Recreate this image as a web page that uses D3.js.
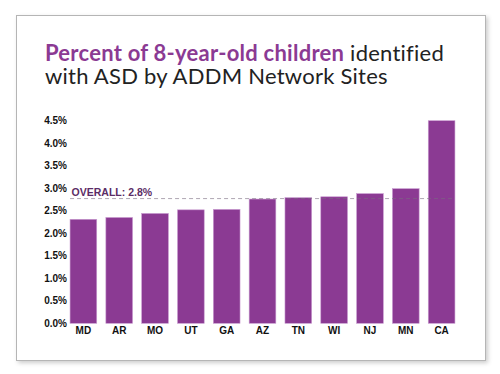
<!DOCTYPE html>
<html>
<head>
<meta charset="utf-8">
<script src="https://cdn.jsdelivr.net/npm/d3@7"></script>
<style>
  html, body { margin: 0; padding: 0; background: #fff; }
  svg { display: block; }
</style>
</head>
<body>
<div id="chart"></div>
<script>
// ADDM sites, prevalence (%) among 8-year-olds
var sites = ['MD', 'AR', 'MO', 'UT', 'GA', 'AZ', 'TN', 'WI', 'NJ', 'MN', 'CA'];
var percent = [2.31, 2.35, 2.44, 2.52, 2.53, 2.76, 2.79, 2.81, 2.88, 2.99, 4.5];
var overall = 2.77;
var overallLabel = 'OVERALL: 2.8%';
var yTicks = [0, 0.5, 1, 1.5, 2, 2.5, 3, 3.5, 4, 4.5];

var width = 500, height = 374;
var purple = '#8b3a93';

var svg = d3.select('#chart').append('svg')
    .attr('width', width)
    .attr('height', height);

var defs = svg.append('defs');
var shadow = defs.append('filter').attr('id', 'shadow')
    .attr('x', '-5%').attr('y', '-5%').attr('width', '110%').attr('height', '110%');
shadow.append('feDropShadow')
    .attr('dx', 2).attr('dy', 2).attr('stdDeviation', 2)
    .attr('flood-color', '#000').attr('flood-opacity', 0.2);

// card frame
svg.append('rect')
    .attr('x', 16.5).attr('y', 15.5)
    .attr('width', 469).attr('height', 345)
    .attr('fill', '#fff')
    .attr('stroke', '#b5b5b5')
    .attr('stroke-width', 1)
    .attr('filter', 'url(#shadow)');

// title, two lines
var title = svg.append('text')
    .attr('font-family', 'Lato, sans-serif')
    .attr('font-size', 22)
    .attr('letter-spacing', 0.25)
    .attr('fill', '#222');
var line1 = title.append('tspan').attr('x', 45).attr('y', 61);
line1.append('tspan')
    .attr('font-weight', 'bold')
    .attr('fill', purple)
    .text('Percent of 8-year-old children');
line1.append('tspan').text(' identified');
title.append('tspan')
    .attr('x', 45).attr('y', 84)
    .text('with ASD by ADDM Network Sites');

var x = d3.scaleBand()
    .domain(sites)
    .range([65.4, 459.6])
    .paddingInner(0.255)
    .paddingOuter(0.13);

var y = d3.scaleLinear()
    .domain([0, 4.5])
    .range([323.3, 120.7]);

// y axis
var yAxis = svg.append('g')
    .attr('transform', 'translate(67,0)')
    .call(d3.axisLeft(y).tickValues(yTicks).tickSize(0).tickPadding(0)
        .tickFormat(function (d) { return d.toFixed(1) + '%'; }));
yAxis.select('.domain').remove();
yAxis.selectAll('text')
    .attr('font-family', 'Liberation Sans, Arial, sans-serif')
    .attr('font-weight', 'bold')
    .attr('font-size', 10)
    .attr('fill', '#111');

// bars
svg.append('g')
    .selectAll('rect')
    .data(percent)
    .enter().append('rect')
    .attr('x', function (d, i) { return x(sites[i]); })
    .attr('y', function (d) { return y(d); })
    .attr('width', x.bandwidth())
    .attr('height', function (d) { return y(0) - y(d); })
    .attr('fill', purple)
    .attr('stroke', '#c99bd0')
    .attr('stroke-width', 0.6);

// x axis
var xAxis = svg.append('g')
    .attr('transform', 'translate(0,' + y(0) + ')')
    .call(d3.axisBottom(x).tickSize(0).tickPadding(4));
xAxis.select('.domain').remove();
xAxis.selectAll('text')
    .attr('font-family', 'Liberation Sans, Arial, sans-serif')
    .attr('font-weight', 'bold')
    .attr('font-size', 10)
    .attr('fill', '#111');

// overall reference line
svg.append('line')
    .attr('x1', x(sites[0]))
    .attr('x2', x(sites[sites.length - 1]) + x.bandwidth())
    .attr('y1', y(overall))
    .attr('y2', y(overall))
    .attr('stroke', '#7a6a80')
    .attr('stroke-opacity', 0.6)
    .attr('stroke-width', 1)
    .attr('stroke-dasharray', '4,3');

svg.append('text')
    .attr('x', x(sites[0]) + 1.5)
    .attr('y', y(overall) - 3)
    .attr('font-family', 'Liberation Sans, Arial, sans-serif')
    .attr('font-size', 10.5)
    .attr('font-weight', 'bold')
    .attr('fill', '#5b2d66')
    .text(overallLabel);
</script>
</body>
</html>
